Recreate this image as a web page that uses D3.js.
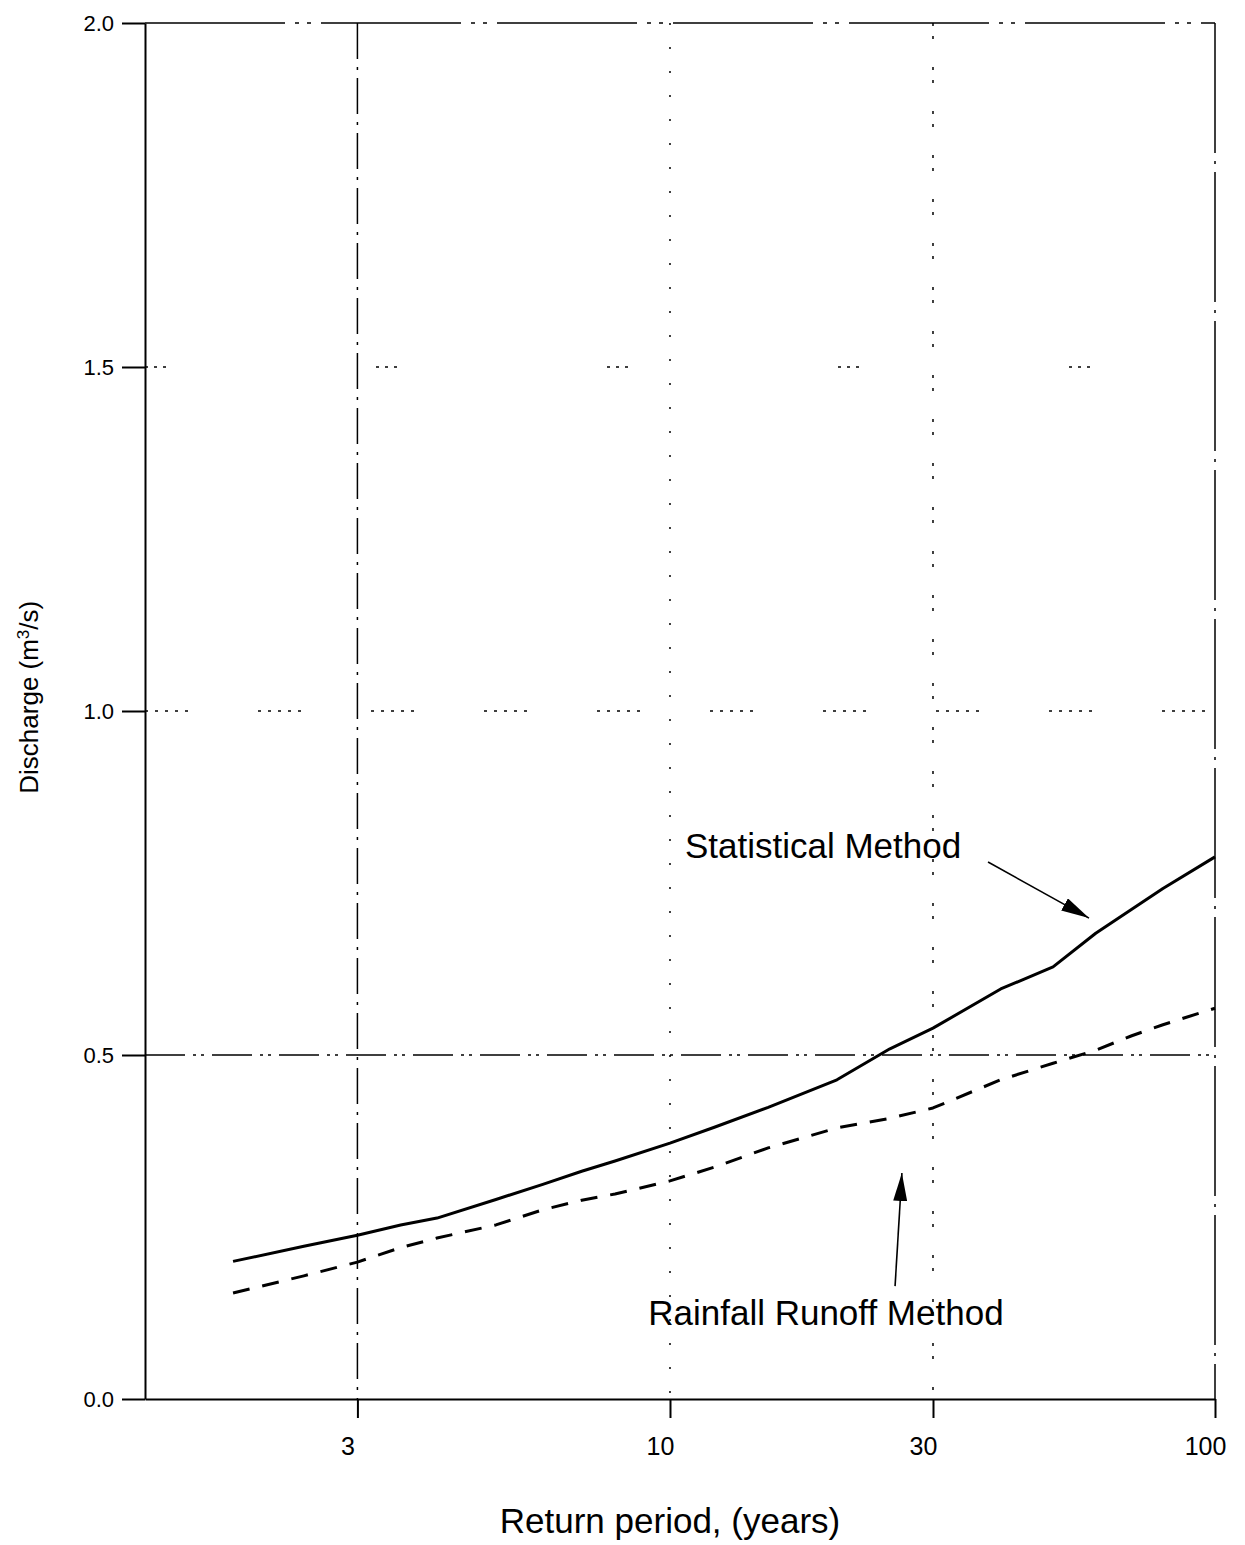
<!DOCTYPE html>
<html>
<head>
<meta charset="utf-8">
<script src="https://d3js.org/d3.v7.min.js"></script>
<style>
body { margin: 0; background: #fff; }
text { font-family: "Liberation Sans", Arial, sans-serif; fill: #000; }
.axis path, .axis line { stroke: #000; stroke-width: 2px; }
.grid { stroke: #000; stroke-width: 1.5px; fill: none; }
.line { fill: none; stroke: #000; stroke-width: 3px; stroke-linejoin: round; }
.pointer { stroke: #000; stroke-width: 1.6px; }
</style>
</head>
<body>
<div id="chart"></div>
<script>
// return periods (years) and discharges (m3/s)
var returnPeriods = [2, 2.5, 3, 3.5, 4, 5, 6, 7, 8, 10, 12, 15, 20, 25, 30, 40, 50, 60, 70, 80, 100];
var statistical = [0.200, 0.222, 0.238, 0.253, 0.263, 0.290, 0.312, 0.331, 0.346, 0.372, 0.395, 0.424, 0.464, 0.509, 0.539, 0.596, 0.628, 0.677, 0.712, 0.742, 0.788];
var rainfallRunoff = [0.154, 0.179, 0.199, 0.220, 0.234, 0.253, 0.275, 0.289, 0.298, 0.317, 0.337, 0.365, 0.394, 0.408, 0.423, 0.464, 0.488, 0.507, 0.528, 0.544, 0.568];
var xTicks = [3, 10, 30, 100];
var yTicks = [0.0, 0.5, 1.0, 1.5, 2.0];
var xDomain = [1.57, 100];
var yDomain = [0, 2.0];

// labels with arrows: text anchor and arrow from/to, in data units (T, Q)
var labelNames = ["Statistical Method", "Rainfall Runoff Method"];
var labelAt = [[10.63, 0.786], [9.15, 0.1076]];
var arrowFrom = [[37.9, 0.7805], [25.55, 0.164]];
var arrowTo = [[58.3, 0.699], [26.3, 0.3285]];

var margin = {top: 23, right: 30, bottom: 146, left: 145},
    width = 1245 - margin.left - margin.right,
    height = 1545 - margin.top - margin.bottom;

// Gumbel reduced variate, the paper's return period axis
function gumbel(T) { return -Math.log(-Math.log(1 - 1 / T)); }

var x = d3.scaleLinear()
    .domain(xDomain.map(gumbel))
    .range([0, width]);

var y = d3.scaleLinear()
    .domain(yDomain)
    .range([height, 0]);

var xAxis = d3.axisBottom(x)
    .tickValues(xTicks.map(gumbel))
    .tickFormat(function(d, i) { return xTicks[i]; })
    .tickSizeInner(19)
    .tickSizeOuter(0)
    .tickPadding(19);

var yAxis = d3.axisLeft(y)
    .tickValues(yTicks)
    .tickFormat(d3.format(".1f"))
    .tickSizeInner(23)
    .tickSizeOuter(0)
    .tickPadding(8);

var svg = d3.select("#chart").append("svg")
    .attr("width", width + margin.left + margin.right)
    .attr("height", height + margin.top + margin.bottom)
  .append("g")
    .attr("transform", "translate(" + margin.left + "," + margin.top + ")");

svg.append("defs").append("marker")
    .attr("id", "head")
    .attr("viewBox", "0 0 28 14")
    .attr("refX", 28)
    .attr("refY", 7)
    .attr("markerUnits", "userSpaceOnUse")
    .attr("markerWidth", 28)
    .attr("markerHeight", 14)
    .attr("orient", "auto")
  .append("path")
    .attr("d", "M0,0L28,7L0,14Z")
    .attr("fill", "#000");

// broken dash-dot grid, as on the scanned original
var hDash = {"0.5": "40,8,3,5,3,8", "1": "3,7,3,7,3,7,3,7,3,70", "1.5": "3,6,3,6,3,210", "2": "140,10,4,8,4,10"};
var vDash = {"3": "36,8,3,8", "10": "2,22", "30": "3,10,3,28", "100": "130,8,3,8"};

svg.selectAll(".hgrid")
    .data(yTicks.filter(function(d) { return d > 0; }))
  .enter().append("line")
    .attr("class", "grid hgrid")
    .attr("x1", 0)
    .attr("x2", width)
    .attr("y1", function(d) { return y(d); })
    .attr("y2", function(d) { return y(d); })
    .attr("stroke-width", function(d) { return d == 2 ? 2 : 1.5; })
    .attr("stroke-dasharray", function(d) { return hDash[String(d)]; });

svg.selectAll(".vgrid")
    .data(xTicks)
  .enter().append("line")
    .attr("class", "grid vgrid")
    .attr("x1", function(d) { return x(gumbel(d)); })
    .attr("x2", function(d) { return x(gumbel(d)); })
    .attr("y1", 0)
    .attr("y2", height)
    .attr("stroke-width", function(d) { return d == 100 ? 2 : 1.5; })
    .attr("stroke-dasharray", function(d) { return vDash[String(d)]; });

svg.append("g")
    .attr("class", "x axis")
    .attr("transform", "translate(0," + height + ")")
    .call(xAxis)
    .call(function(g) {
      g.selectAll("text").attr("font-size", 25).attr("dx", -10);
    });

svg.append("g")
    .attr("class", "y axis")
    .call(yAxis)
    .call(function(g) {
      g.selectAll("text").attr("font-size", 22);
    });

var line = d3.line()
    .x(function(d, i) { return x(gumbel(returnPeriods[i])); })
    .y(function(d) { return y(d); });

svg.append("path")
    .attr("class", "line")
    .attr("d", line(statistical));

svg.append("path")
    .attr("class", "line")
    .attr("d", line(rainfallRunoff))
    .attr("stroke-dasharray", "17,13");

labelNames.forEach(function(name, i) {
  svg.append("text")
      .attr("x", x(gumbel(labelAt[i][0])))
      .attr("y", y(labelAt[i][1]))
      .attr("font-size", 35)
      .text(name);

  svg.append("line")
      .attr("class", "pointer")
      .attr("x1", x(gumbel(arrowFrom[i][0])))
      .attr("y1", y(arrowFrom[i][1]))
      .attr("x2", x(gumbel(arrowTo[i][0])))
      .attr("y2", y(arrowTo[i][1]))
      .attr("marker-end", "url(#head)");
});

svg.append("text")
    .attr("x", width / 2 - 10)
    .attr("y", height + 134)
    .attr("font-size", 35)
    .style("text-anchor", "middle")
    .text("Return period, (years)");

var ytitle = svg.append("text")
    .attr("transform", "translate(" + (-107) + "," + (y(1.02)) + ") rotate(-90)")
    .attr("font-size", 26)
    .style("text-anchor", "middle");
ytitle.append("tspan").text("Discharge (m");
ytitle.append("tspan").attr("font-size", 17).attr("baseline-shift", "super").text("3");
ytitle.append("tspan").text("/s)");
</script>
</body>
</html>
